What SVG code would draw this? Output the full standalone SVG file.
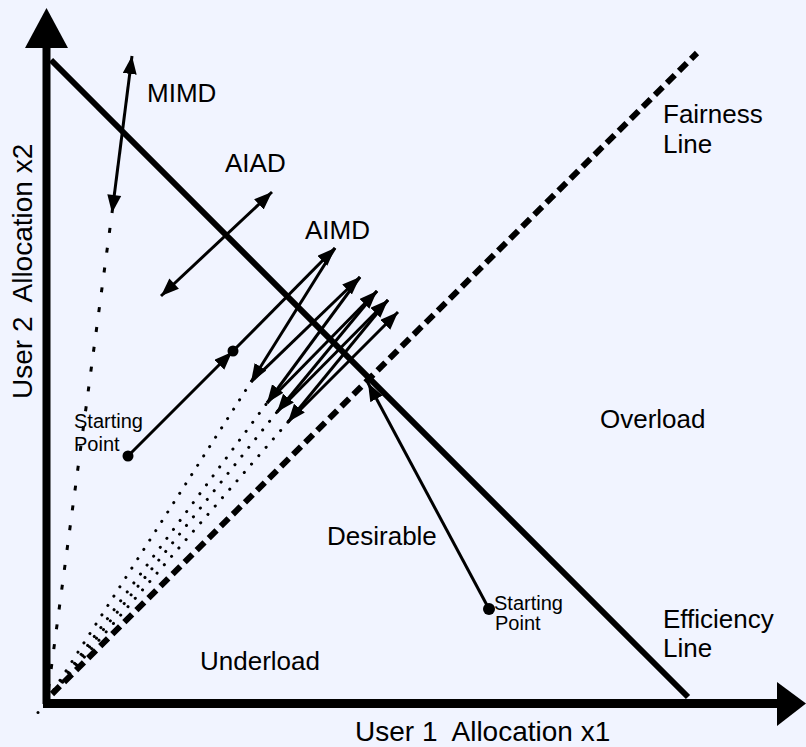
<svg xmlns="http://www.w3.org/2000/svg" width="806" height="747" viewBox="0 0 806 747">
<style>
.t{font-family:"Liberation Sans",Arial,sans-serif;font-size:26px;fill:#000}
.ax{font-family:"Liberation Sans",Arial,sans-serif;font-size:28px;fill:#000}
.s{font-family:"Liberation Sans",Arial,sans-serif;font-size:20px;fill:#000}
.ar{stroke:#000;stroke-width:3;fill:none}
.dot{stroke:#000;stroke-width:3;fill:none;stroke-dasharray:0.1 11;stroke-linecap:round}
</style>
<defs>
<marker id="ah" markerUnits="userSpaceOnUse" markerWidth="20" markerHeight="16" refX="18" refY="7" orient="auto">
<path d="M0,0 L18,7 L0,14 z" fill="#000"/>
</marker>
<marker id="as" markerUnits="userSpaceOnUse" markerWidth="20" markerHeight="16" refX="0" refY="7" orient="auto">
<path d="M18,0 L0,7 L18,14 z" fill="#000"/>
</marker>
</defs>
<rect width="806" height="747" fill="#F1F4FF"/>
<g id="axes">
<line x1="46.5" y1="45" x2="46.5" y2="704" stroke="#000" stroke-width="8"/>
<polygon points="46.5,8 25,48 68,48" fill="#000"/>
<line x1="43" y1="703.5" x2="780" y2="703.5" stroke="#000" stroke-width="9"/>
<polygon points="806,703.5 777,682 777,726" fill="#000"/>
</g>
<g id="efficiency-line">
<line x1="51" y1="60" x2="688" y2="697" stroke="#000" stroke-width="6"/>
</g>
<g id="fairness-line">
<line x1="52" y1="694" x2="697" y2="53" stroke="#000" stroke-width="6" stroke-dasharray="11 6"/>
</g>
<g id="connectors">
<line class="dot" x1="48" y1="699" x2="251" y2="382"/>
<line class="dot" x1="48" y1="699" x2="267" y2="403"/>
<line class="dot" x1="48" y1="699" x2="277" y2="412"/>
<line class="dot" x1="48" y1="699" x2="288" y2="422"/>
<line x1="112" y1="213" x2="47" y2="700" stroke="#000" stroke-width="3" stroke-dasharray="5 15" stroke-dashoffset="5"/>
<circle cx="38" cy="712.5" r="1.5" fill="#000"/>
<line class="ar" x1="112" y1="213" x2="132" y2="56" marker-start="url(#as)" marker-end="url(#ah)"/>
<line class="ar" x1="161" y1="296" x2="272" y2="192" marker-start="url(#as)" marker-end="url(#ah)"/>
<line class="ar" x1="128" y1="456" x2="232" y2="352" marker-end="url(#ah)"/>
<line class="ar" x1="233" y1="351" x2="335" y2="248" marker-end="url(#ah)"/>
<line class="ar" x1="335" y1="248" x2="251" y2="382" marker-end="url(#ah)"/>
<line class="ar" x1="251" y1="382" x2="360" y2="277" marker-end="url(#ah)"/>
<line class="ar" x1="360" y1="277" x2="267" y2="403" marker-end="url(#ah)"/>
<line class="ar" x1="267" y1="403" x2="377" y2="291" marker-end="url(#ah)"/>
<line class="ar" x1="377" y1="291" x2="277" y2="412" marker-end="url(#ah)"/>
<line class="ar" x1="277" y1="412" x2="388" y2="300" marker-end="url(#ah)"/>
<line class="ar" x1="388" y1="300" x2="288" y2="422" marker-end="url(#ah)"/>
<line class="ar" x1="288" y1="422" x2="398" y2="312" marker-end="url(#ah)"/>
<line class="ar" x1="489" y1="609" x2="368" y2="383" marker-end="url(#ah)"/>
</g>
<g id="start-left">
<circle cx="128" cy="456" r="5.5" fill="#000"/>
<text class="s" x="74" y="428">Starting</text>
<text class="s" x="74" y="451">Point</text>
</g>
<g id="mid-point">
<circle cx="233" cy="351" r="5.5" fill="#000"/>
</g>
<g id="start-right">
<circle cx="489" cy="609" r="6" fill="#000"/>
<text class="s" x="494" y="610">Starting</text>
<text class="s" x="495" y="630">Point</text>
</g>
<g id="labels">
<text class="t" x="147" y="102">MIMD</text>
<text class="t" x="225" y="172">AIAD</text>
<text class="t" x="305" y="239">AIMD</text>
<text class="t" x="663" y="123">Fairness</text>
<text class="t" x="663" y="153">Line</text>
<text class="t" x="600" y="428">Overload</text>
<text class="t" x="327" y="545">Desirable</text>
<text class="t" x="663" y="628">Efficiency</text>
<text class="t" x="663" y="657">Line</text>
<text class="t" x="200" y="670">Underload</text>
<text class="ax" x="355" y="741" xml:space="preserve">User 1  Allocation x1</text>
<text class="ax" transform="translate(32,399) rotate(-90)" xml:space="preserve">User 2  Allocation x2</text>
</g>
</svg>
